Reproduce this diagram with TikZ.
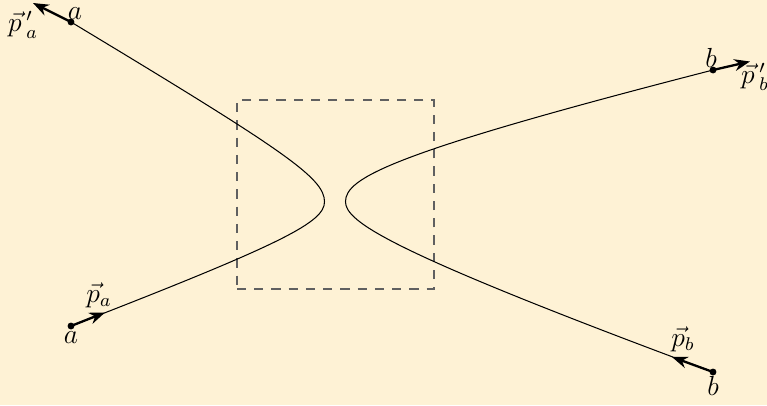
\documentclass[tikz,border=0pt]{standalone}
\usepackage{amsmath,amssymb,xcolor}
\usepackage{tikz}
\usetikzlibrary{positioning,arrows.meta,calc}
\definecolor{bgcream}{HTML}{FEF2D5}
\definecolor{boxgray}{HTML}{606060}

\begin{document}
\begin{tikzpicture}[x=0.435pt,y=-0.435pt,
 dot/.style={circle,fill=black,inner sep=0pt,minimum size=3pt},
 lab/.style={inner sep=1pt,font=\large},
 mom/.style={-{Stealth[length=2.4mm,width=1.8mm]},line width=1pt},
 track/.style={line width=0.45pt},
 region/.style={draw=boxgray,dashed,dash pattern=on 4pt off 3.5pt,line width=0.45pt}]
\path[use as bounding box,fill=bgcream] (0,0) rectangle (767,405);
% particles in and out
\node[dot] (ain) at (71,326) {}; \node[dot] (aout) at (71,22) {};
\node[dot] (bin) at (713,372) {}; \node[dot] (bout) at (713,70) {};
\node[lab] (ainlab) at (71,338) {$a$}; \node[lab] (aoutlab) at (75,14) {$a$};
\node[lab] (binlab) at (713,386) {$b$}; \node[lab] (boutlab) at (711,58) {$b$};
% momentum arrows
\coordinate (pa) at (105,312.5); \coordinate (paout) at (33,3);
\coordinate (pb) at (672,357); \coordinate (pbout) at (750,61.5);
\draw[mom] (ain.center)--(pa); \draw[mom] (aout.center)--(paout);
\draw[mom] (bin.center)--(pb); \draw[mom] (bout.center)--(pbout);
\node[lab] (palab) at (99,295) {$\vec{p}_a$}; \node[lab] (paoutlab) at (23,25) {$\vec{p}\,'_a$};
\node[lab] (pblab) at (683,339) {$\vec{p}_b$}; \node[lab] (pboutlab) at (755,77) {$\vec{p}\,'_b$};
% interaction region and tracks
\node[region,minimum width=197*0.435pt,minimum height=189*0.435pt,inner sep=0pt] (inter) at (335.5,194.5) {};
\coordinate (avert) at (324.5,201.7); \coordinate (bvert) at (345.5,201.7);
\draw[track] (aout.center) .. controls (285,151) and (324.5,178) .. (avert)
 .. controls (324.5,222) and (285,243) .. (ain.center);
\draw[track] (bout.center) .. controls (390,153) and (345.5,178) .. (bvert)
 .. controls (345.5,222) and (390,252) .. (bin.center);
\end{tikzpicture}
\end{document}
